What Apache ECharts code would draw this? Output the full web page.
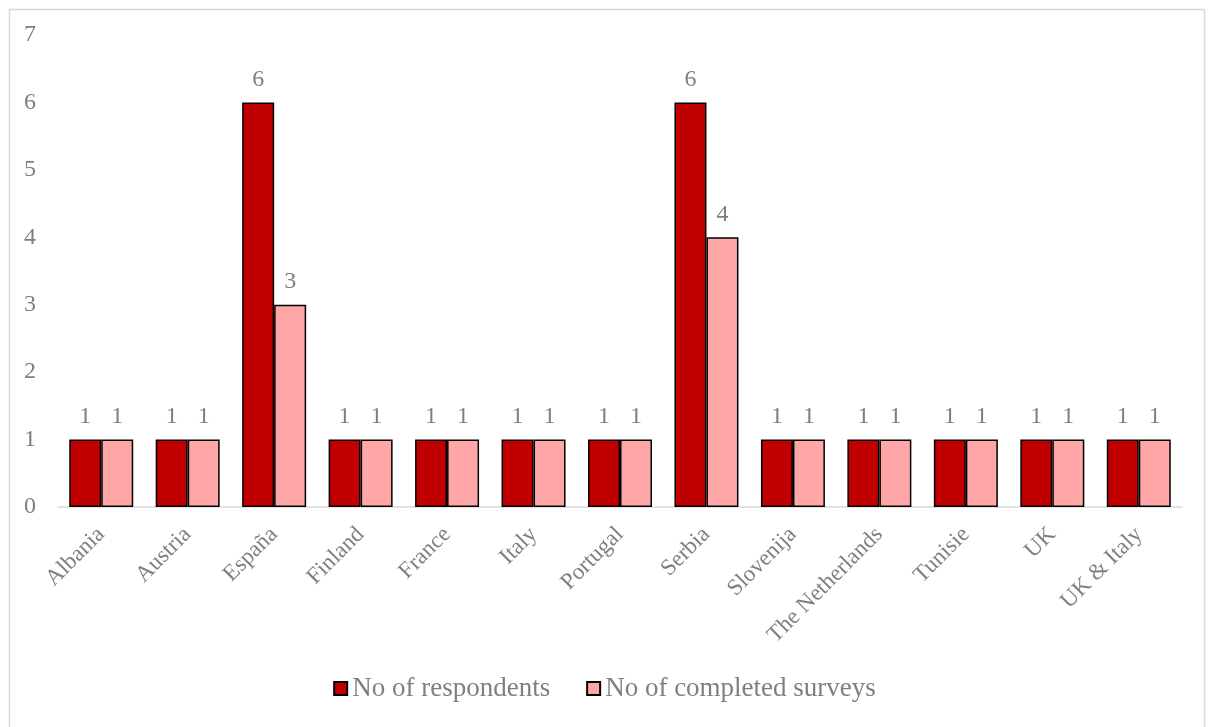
<!DOCTYPE html>
<html>
<head>
<meta charset="utf-8">
<script src="https://cdn.jsdelivr.net/npm/echarts@6/dist/echarts.min.js"></script>
<style>
  html, body { margin: 0; padding: 0; background: #fff; }
  #chart { width: 1209px; height: 727px; }
</style>
</head>
<body>
<div id="chart"></div>
<script>
const categories = ['Albania', 'Austria', 'España', 'Finland', 'France', 'Italy', 'Portugal',
  'Serbia', 'Slovenija', 'The Netherlands', 'Tunisie', 'UK', 'UK & Italy']
const respondents = [1, 1, 6, 1, 1, 1, 1, 6, 1, 1, 1, 1, 1]
const completed = [1, 1, 3, 1, 1, 1, 1, 4, 1, 1, 1, 1, 1]
const yTicks = [0, 1, 2, 3, 4, 5, 6, 7]

const font = 'Liberation Serif, Times New Roman, serif'
const grey = '#7f7f7f'

const chart = echarts.init(document.getElementById('chart'))

const labelStyle = {
  show: true,
  position: 'top',
  distance: 11,
  color: grey,
  fontFamily: font,
  fontSize: 24
}

const option = {
  animation: false,
  textStyle: { fontFamily: font },
  graphic: [{
    type: 'rect',
    left: 7, top: 7,
    shape: { width: 1195, height: 740 },
    style: { fill: 'none', stroke: '#d9d9d9', lineWidth: 1.5 },
    silent: true
  }],
  grid: { left: 58, right: 27, top: 35, bottom: 220 },
  legend: {
    bottom: 20,
    left: 'center',
    itemWidth: 13,
    itemHeight: 13,
    itemGap: 36,
    icon: 'rect',
    textStyle: { color: grey, fontFamily: font, fontSize: 27 },
    data: ['No of respondents', 'No of completed surveys']
  },
  xAxis: {
    type: 'category',
    data: categories,
    axisLine: { lineStyle: { color: '#d9d9d9', width: 1.5 } },
    axisTick: { show: false },
    axisLabel: {
      rotate: 45,
      interval: 0,
      margin: 24,
      color: grey,
      fontFamily: font,
      fontSize: 23
    }
  },
  yAxis: {
    type: 'value',
    min: yTicks[0],
    max: yTicks[yTicks.length - 1],
    interval: 1,
    axisLine: { show: false },
    axisTick: { show: false },
    splitLine: { show: false },
    axisLabel: {
      margin: 22,
      color: grey,
      fontFamily: font,
      fontSize: 24
    }
  },
  series: [
    {
      name: 'No of respondents',
      type: 'bar',
      data: respondents,
      barGap: '0%',
      barCategoryGap: '26%',
      itemStyle: { color: '#c00000', borderColor: '#000', borderWidth: 1.5 },
      label: labelStyle
    },
    {
      name: 'No of completed surveys',
      type: 'bar',
      data: completed,
      itemStyle: { color: '#ffa7a7', borderColor: '#000', borderWidth: 1.5 },
      label: labelStyle
    }
  ]
}

chart.setOption(option)
</script>
</body>
</html>
